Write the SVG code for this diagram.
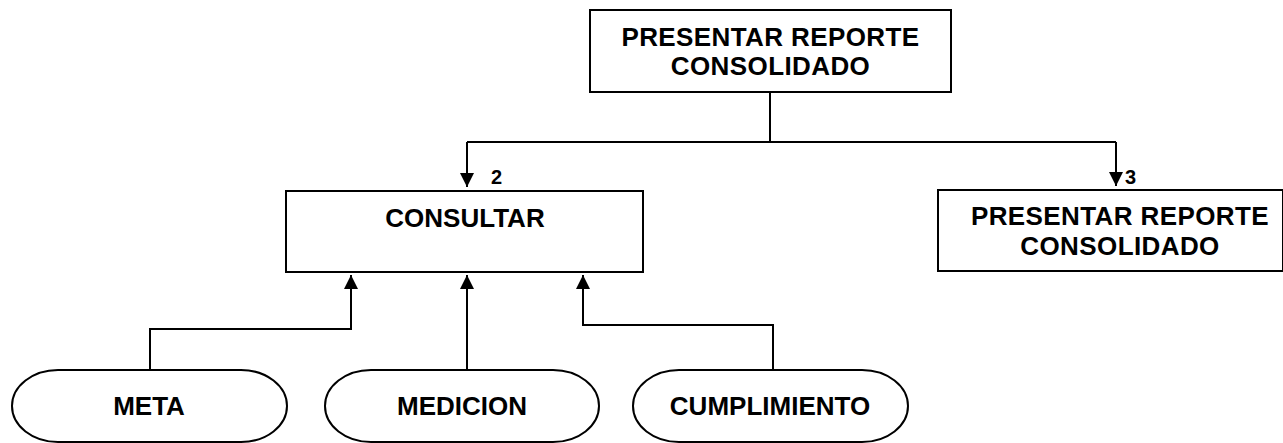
<svg xmlns="http://www.w3.org/2000/svg" width="1283" height="443" viewBox="0 0 1283 443">
<style>
.box{fill:#fff;stroke:#000;stroke-width:2}
.t{font-family:"Liberation Sans",Arial,sans-serif;font-weight:bold;font-size:26px;fill:#000;text-anchor:middle}
.w{letter-spacing:0.4px}
.n{font-family:"Liberation Sans",Arial,sans-serif;font-weight:bold;font-size:20px;fill:#000}
.c{fill:none;stroke:#000;stroke-width:2}
</style>
<defs>
<marker id="ah" markerWidth="14" markerHeight="16" refX="14" refY="7" orient="auto" markerUnits="userSpaceOnUse" viewBox="0 0 14 14">
<path d="M0,0 L14,7 L0,14 Z" fill="#000"/>
</marker>
</defs>
<rect width="1283" height="443" fill="#fff"/>
<g id="connectors">
<path class="c" d="M770,92 V142 M467,142 H1116"/>
<path class="c" d="M467,142 V187" marker-end="url(#ah)"/>
<path class="c" d="M1116,142 V186" marker-end="url(#ah)"/>
<path class="c" d="M150,370 V329 H351 V275" marker-end="url(#ah)"/>
<path class="c" d="M467,370 V275" marker-end="url(#ah)"/>
<path class="c" d="M773,370 V325 H583 V275" marker-end="url(#ah)"/>
<text class="n" x="491" y="184">2</text>
<text class="n" x="1125" y="184">3</text>
</g>
<g id="top">
<rect class="box" x="590" y="10" width="361" height="82"/>
<text class="t w" x="770.5" y="46">PRESENTAR REPORTE</text>
<text class="t w" x="770.5" y="75">CONSOLIDADO</text>
</g>
<g id="consultar">
<rect class="box" x="286" y="191" width="357" height="81"/>
<text class="t" x="465" y="227">CONSULTAR</text>
</g>
<g id="presentar2">
<rect class="box" x="938" y="190" width="345" height="81"/>
<text class="t w" x="1120" y="225">PRESENTAR REPORTE</text>
<text class="t w" x="1120" y="255">CONSOLIDADO</text>
</g>
<g id="meta">
<rect class="box" x="12" y="370" width="275" height="72" rx="46" ry="36"/>
<text class="t" x="149" y="415">META</text>
</g>
<g id="medicion">
<rect class="box" x="325" y="370" width="274" height="72" rx="46" ry="36"/>
<text class="t" x="462" y="415">MEDICION</text>
</g>
<g id="cumplimiento">
<rect class="box" x="633" y="370" width="275" height="72" rx="46" ry="36"/>
<text class="t" x="770" y="415">CUMPLIMIENTO</text>
</g>
</svg>
